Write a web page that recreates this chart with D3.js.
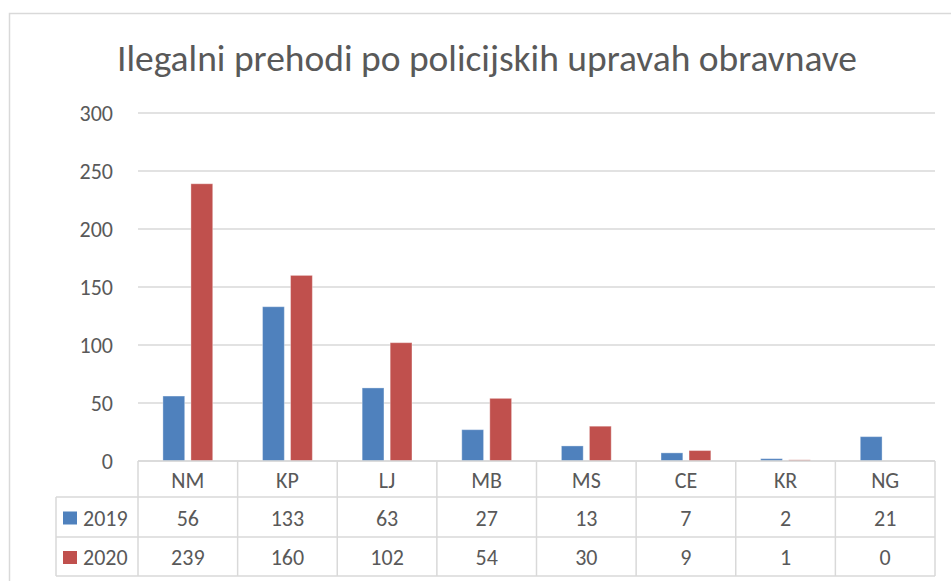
<!DOCTYPE html>
<html><head><meta charset="utf-8">
<script src="https://cdn.jsdelivr.net/npm/d3@7"></script>
<style>
html,body{margin:0;padding:0;background:#fff;}
svg{display:block;}
text{font-family:Carlito,Calibri,Lato,"Open Sans",sans-serif;fill:#595959;}
</style></head>
<body>
<svg id="chart" width="951" height="581"></svg>
<script>
const title = "Ilegalni prehodi po policijskih upravah obravnave";
const categories = ["NM","KP","LJ","MB","MS","CE","KR","NG"];
const seriesNames = ["2019","2020"];
const values2019 = [56,133,63,27,13,7,2,21];
const values2020 = [239,160,102,54,30,9,1,0];
const yTicks = [0,50,100,150,200,250,300];
const colors = ["#4F81BD","#C0504D"];

const seriesValues = [values2019, values2020];
const svg = d3.select("#chart");

// chart frame
svg.append("rect").attr("x",9.5).attr("y",13.5).attr("width",960).attr("height",600)
  .attr("fill","#fff").attr("stroke","#D9D9D9").attr("stroke-width",1.5);

// title
svg.append("text").attr("x",487).attr("y",71).attr("text-anchor","middle")
  .style("font-size","37px").style("font-weight",300)
  .attr("textLength",740).attr("lengthAdjust","spacingAndGlyphs")
  .text(title);

const plotLeft = 138, plotRight = 935, plotTop = 113, zero = 461;
const x = d3.scaleBand().domain(categories).range([plotLeft,plotRight]).padding(0);
const bw = x.bandwidth();
const xs = d3.scaleBand().domain(seriesNames).range([bw*0.25, bw*0.75]).paddingInner(0.222).paddingOuter(0);
const y = d3.scaleLinear().domain([0,300]).range([zero, plotTop]);

// gridlines
svg.append("g").selectAll("line").data(yTicks).join("line")
  .attr("x1",plotLeft).attr("x2",plotRight)
  .attr("y1",d=>y(d)).attr("y2",d=>y(d))
  .attr("stroke","#D9D9D9").attr("stroke-width",1.5);

// y axis labels
const yAxis = d3.axisLeft(y).tickValues(yTicks).tickSize(0).tickPadding(0);
const gy = svg.append("g").attr("transform",`translate(113,0)`).call(yAxis);
gy.select(".domain").remove();
gy.selectAll("text").style("font-size","22px").style("font-family","Carlito,Calibri,Lato,'Open Sans',sans-serif").attr("fill","#595959").attr("dy","0.35em");

// bars
seriesNames.forEach((s,si)=>{
  svg.append("g").selectAll("rect").data(categories).join("rect")
    .attr("x",c=>x(c)+xs(s))
    .attr("width",xs.bandwidth())
    .attr("y",(c,i)=>y(seriesValues[si][i]))
    .attr("height",(c,i)=>zero - y(seriesValues[si][i]))
    .attr("fill",colors[si])
    .attr("stroke","rgba(255,255,255,0.35)").attr("stroke-width",1);
});

// data table
const rowH = [zero, 497, 537, 576];
const tableLeft = 56;
const tg = svg.append("g").attr("stroke","#D9D9D9").attr("stroke-width",1.5).attr("fill","none");
tg.append("line").attr("x1",plotLeft).attr("x2",plotRight).attr("y1",zero).attr("y2",zero);
[497,537,576].forEach(yy=>{
  tg.append("line").attr("x1",tableLeft).attr("x2",plotRight).attr("y1",yy).attr("y2",yy);
});
tg.append("line").attr("x1",tableLeft).attr("x2",tableLeft).attr("y1",497).attr("y2",576);
const bounds = categories.map(c=>x(c)).concat([plotRight]);
tg.selectAll("line.v").data(bounds).join("line").attr("class","v")
  .attr("x1",d=>d).attr("x2",d=>d).attr("y1",zero).attr("y2",576);

// category labels
svg.append("g").selectAll("text").data(categories).join("text")
  .attr("x",c=>x(c)+bw/2).attr("y",(rowH[0]+rowH[1])/2+1).attr("dy","0.35em")
  .attr("text-anchor","middle").style("font-size","22px").text(c=>c);

// values + legend keys
seriesNames.forEach((s,si)=>{
  const cy = (rowH[si+1]+rowH[si+2])/2+1;
  svg.append("g").selectAll("text").data(categories).join("text")
    .attr("x",c=>x(c)+bw/2).attr("y",cy).attr("dy","0.35em")
    .attr("text-anchor","middle").style("font-size","22px")
    .text((c,i)=>seriesValues[si][i]);
  svg.append("rect").attr("x",63).attr("y",cy-6.5).attr("width",14).attr("height",13).attr("fill",colors[si]);
  svg.append("text").attr("x",83).attr("y",cy).attr("dy","0.35em").style("font-size","22px").text(s);
});
</script>
</body></html>
